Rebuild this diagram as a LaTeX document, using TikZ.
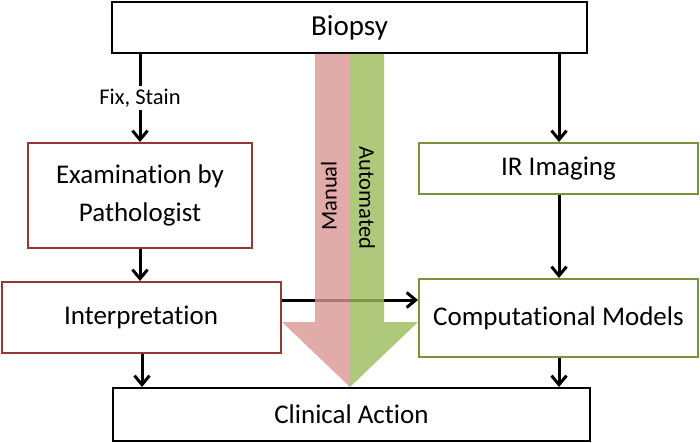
\documentclass[tikz,border=0pt]{standalone}
\usepackage{fontspec}
\setmainfont{Carlito}[Ligatures={NoCommon}]
\usetikzlibrary{arrows.meta}
\definecolor{boxred}{HTML}{953735}
\definecolor{boxgreen}{HTML}{77933C}
\definecolor{manpink}{HTML}{D99694}
\definecolor{autogreen}{HTML}{9BBB59}
\tikzset{
  box/.style={draw, line width=2pt, fill=white, inner sep=0pt, align=center, font=\fontsize{27}{38}\selectfont},
  redbox/.style={box, draw=boxred},
  greenbox/.style={box, draw=boxgreen},
  blackbox/.style={box, draw=black},
  flow/.style={line width=3pt, -{Straight Barb[length=9pt,width=15pt,line width=3pt]}},
  lbl/.style={font=\fontsize{22.5}{26}\selectfont},
}
\begin{document}
\begin{tikzpicture}[x=1pt,y=-1pt]
\useasboundingbox (0,0) rectangle (700,443);
\node[blackbox, minimum width=475pt, minimum height=51pt, font=\fontsize{29}{34}\selectfont] (biopsy) at (349.5,27.5) {Biopsy};
\node[redbox, minimum width=224pt, minimum height=105pt] (exam) at (140,195.5) {Examination by\\Pathologist};
\node[redbox, minimum width=279pt, minimum height=71pt] (interp) at (141,317.5) {Interpretation};
\node[greenbox, minimum width=279pt, minimum height=51pt] (ir) at (558.5,168.5) {IR Imaging};
\node[greenbox, minimum width=279pt, minimum height=78pt] (comp) at (558.5,318) {Computational Models};
\node[blackbox, minimum width=477pt, minimum height=53pt] (clin) at (351.5,414.5) {Clinical Action};

\draw[flow] (biopsy.south -| 140,0) -- node[lbl, fill=white, inner sep=3pt] {Fix, Stain} (exam.north -| 140,0);
\draw[flow] (exam.south -| 140,0) -- (interp.north -| 140,0);
\draw[flow] (interp.south -| 142,0) -- (clin.north -| 142,0);
\draw[flow] (biopsy.south -| 559,0) -- (ir.north -| 559,0);
\draw[flow] (ir.south -| 559,0) -- (comp.north -| 559,0);
\draw[flow] (comp.south -| 559,0) -- (clin.north -| 559,0);
\draw[flow] (interp.east |- 0,300) -- (comp.west |- 0,300);

\fill[manpink, opacity=0.8] (315,54) -- (350,54) -- (350,387) -- (282,322) -- (315,322) -- cycle;
\fill[autogreen, opacity=0.8] (350,54) -- (384,54) -- (384,322) -- (418,322) -- (350,387) -- cycle;
\node[lbl, rotate=90] (manual) at (329,196) {Manual};
\node[lbl, rotate=-90] (auto) at (367,198) {Automated};
\end{tikzpicture}
\end{document}
